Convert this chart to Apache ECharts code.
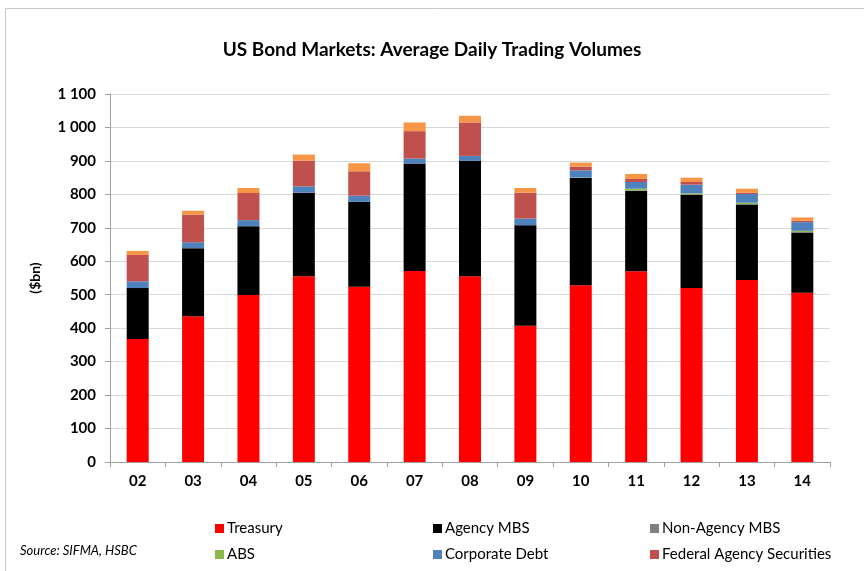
<!DOCTYPE html>
<html>
<head>
<meta charset="utf-8">
<script src="https://cdn.jsdelivr.net/npm/echarts@6/dist/echarts.min.js"></script>
<style>html,body{margin:0;padding:0;background:#fff}#c{width:864px;height:571px}</style>
</head>
<body>
<div id="c"></div>
<script>
const categories = ['02','03','04','05','06','07','08','09','10','11','12','13','14'];
const treasury   = [368, 436, 499, 555, 524, 571, 555, 407, 528, 570, 520, 544, 506];
const agencyMBS  = [152, 203, 206, 250, 254, 321, 345, 301, 321, 240, 279, 226, 180];
const nonAgencyMBS = [0, 0, 0, 0, 0, 0, 0, 0, 0, 2, 1, 1, 1];
const abs        = [0, 0, 0, 0, 0, 0, 0, 0, 1, 5, 3, 4, 4];
const corpDebt   = [20, 18, 18, 19, 18, 15, 15, 20, 22, 20, 26, 26, 26];
const fedAgency  = [79, 82, 81, 77, 73, 82, 100, 77, 11, 9, 8, 4, 4];
const other      = [12, 12, 15, 18, 24, 26, 20, 14, 12, 15, 13, 12, 10];
const yTicks = [0,100,200,300,400,500,600,700,800,900,1000,1100];

const font = 'Lato, "Open Sans", sans-serif';
const names = ['Treasury','Agency MBS','Non-Agency MBS','ABS','Corporate Debt','Federal Agency Securities','Other'];
const colors = ['#ff0000','#000000','#808080','#8db94a','#4f81bd','#c0504d','#f79646'];
const datas = [treasury, agencyMBS, nonAgencyMBS, abs, corpDebt, fedAgency, other];

const chart = echarts.init(document.getElementById('c'), null, {renderer:'canvas'});
const legendCommon = {
  orient:'vertical', itemWidth:9, itemHeight:9, itemGap:11, icon:'rect',
  textStyle:{fontFamily:font, fontSize:15, color:'#000', padding:[0,0,0,-2]},
  selectedMode:false
};
chart.setOption({
  animation:false,
  title:{text:'US Bond Markets: Average Daily Trading Volumes', left:'center', top:35,
    textStyle:{fontFamily:font, fontSize:19, fontWeight:'bold', color:'#000'}},
  graphic:[
    {type:'rect', shape:{x:5.5,y:8.5,width:900,height:600}, style:{fill:null, stroke:'#c8c8c8', lineWidth:1}},
    {type:'text', left:20, top:544, style:{text:'Source: SIFMA, HSBC', fontFamily:font, fontSize:13, fontStyle:'italic', fill:'#000'}}
  ],
  legend:[
    Object.assign({left:210, top:516, data:['Treasury','ABS']}, legendCommon),
    Object.assign({left:428, top:516, data:['Agency MBS','Corporate Debt']}, legendCommon),
    Object.assign({left:645, top:516, data:['Non-Agency MBS','Federal Agency Securities']}, legendCommon)
  ],
  grid:{left:110, right:34, top:94, bottom:109},
  xAxis:{type:'category', data:categories,
    axisLine:{lineStyle:{color:'#a0a0a0'}},
    axisTick:{show:true, length:5, lineStyle:{color:'#a0a0a0'}},
    axisLabel:{fontFamily:font, fontSize:15, fontWeight:'bold', color:'#000', margin:12}},
  yAxis:{type:'value', min:0, max:1100, interval:100,
    name:'($bn)', nameLocation:'middle', nameGap:68, nameRotate:90,
    nameTextStyle:{fontFamily:font, fontSize:14, fontWeight:'bold', color:'#000'},
    axisLine:{show:true, lineStyle:{color:'#a0a0a0'}},
    axisTick:{show:true, length:5, lineStyle:{color:'#a0a0a0'}},
    axisLabel:{fontFamily:font, fontSize:15, fontWeight:'bold', color:'#000', margin:14,
      formatter:v => yTicks.includes(v) ? String(v).replace(/\B(?=(\d{3})+(?!\d))/g,' ') : ''},
    splitLine:{lineStyle:{color:'#d9d9d9'}}},
  series: names.map((n,i)=>({
    name:n, type:'bar', stack:'total', data:datas[i], barWidth:22,
    itemStyle:{color:colors[i]}
  }))
});
</script>
</body>
</html>
